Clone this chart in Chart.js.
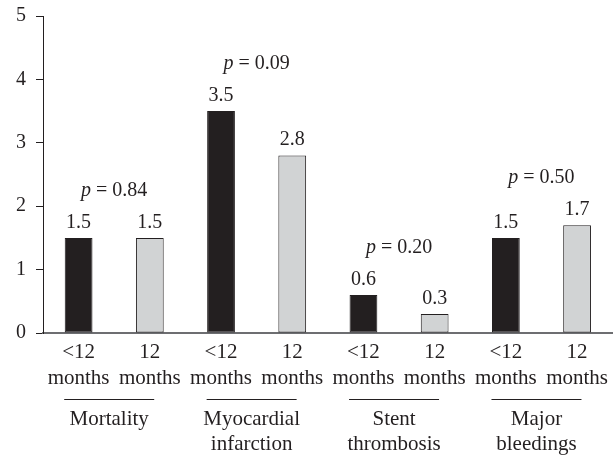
<!DOCTYPE html>
<html>
<head>
<meta charset="utf-8">
<script src="https://cdn.jsdelivr.net/npm/chart.js@4"></script>
<style>
  html, body { margin: 0; padding: 0; background: #fff; }
  #wrap { width: 614px; height: 455px; position: relative; }
</style>
</head>
<body>
<div id="wrap"><canvas id="chart"></canvas></div>
<script>
// data
const groups = [['Mortality'], ['Myocardial', 'infarction'], ['Stent', 'thrombosis'], ['Major', 'bleedings']];
const periods = [['<12', 'months'], ['12', 'months']];
const under12 = [1.5, 3.5, 0.6, 1.5];
const over12 = [1.5, 2.8, 0.3, 1.7];
const pValues = ['0.84', '0.09', '0.20', '0.50'];
const yTicks = [0, 1, 2, 3, 4, 5];

const ink = '#231f20';
const font = 'Liberation Serif';

// interleave the two periods per group
const labels = [], values = [], colors = [];
groups.forEach((g, i) => {
    labels.push(periods[0]); values.push(under12[i]); colors.push(ink);
    labels.push(periods[1]); values.push(over12[i]); colors.push('#d1d3d4');
});

// value labels, p values, group names under the axis
const annotate = {
    id: 'annotate',
    afterDraw(chart) {
        const c = chart.ctx, x = chart.scales.x, y = chart.scales.y;
        c.save();
        c.fillStyle = ink;
        c.textAlign = 'center';
        c.textBaseline = 'alphabetic';
        c.font = `20px "${font}"`;
        values.forEach((v, i) => {
            c.fillText(v.toFixed(1), x.getPixelForValue(i), y.getPixelForValue(v) - 10);
        });
        groups.forEach((g, i) => {
            const mid = (x.getPixelForValue(2 * i) + x.getPixelForValue(2 * i + 1)) / 2;
            // p value, italic p
            const top = y.getPixelForValue(Math.max(under12[i], over12[i])) - 42;
            c.font = `italic 20px "${font}"`;
            const wp = c.measureText('p').width;
            c.font = `20px "${font}"`;
            const rest = ' = ' + pValues[i];
            const wr = c.measureText(rest).width;
            const x0 = mid - (wp + wr) / 2;
            c.textAlign = 'left';
            c.font = `italic 20px "${font}"`;
            c.fillText('p', x0, top);
            c.font = `20px "${font}"`;
            c.fillText(rest, x0 + wp, top);
            c.textAlign = 'center';
            // group caption
            const gx = mid - 5;
            c.strokeStyle = ink;
            c.lineWidth = 1;
            c.beginPath();
            c.moveTo(gx - 45, 399.5);
            c.lineTo(gx + 45, 399.5);
            c.stroke();
            c.font = `21px "${font}"`;
            g.forEach((line, k) => c.fillText(line, gx, 424.5 + k * 25));
        });
        c.restore();
    }
};

const ctx = document.getElementById('chart').getContext('2d');
const chart = new Chart(ctx, {
    type: 'bar',
    data: {
        labels: labels,
        datasets: [{
            data: values,
            backgroundColor: colors,
            borderColor: ink,
            borderWidth: 1,
            borderSkipped: false,
            barPercentage: 0.39,
            categoryPercentage: 1
        }]
    },
    options: {
        responsive: true,
        maintainAspectRatio: false,
        animation: false,
        layout: { padding: { top: 16, left: 0, right: 0, bottom: 0 } },
        plugins: {
            legend: { display: false },
            tooltip: { enabled: false }
        },
        scales: {
            x: {
                offset: true,
                grid: { display: false, drawTicks: false },
                border: { display: true, color: '#6d6e71', width: 2 },
                ticks: {
                    color: ink,
                    font: { family: font, size: 21, lineHeight: 1.25 },
                    padding: 6,
                    autoSkip: false,
                    maxRotation: 0,
                    minRotation: 0
                },
                afterFit(axis) { axis.height = 122; }
            },
            y: {
                min: 0,
                max: 5,
                afterBuildTicks(axis) { axis.ticks = yTicks.map(v => ({ value: v })); },
                grid: { drawOnChartArea: false, drawTicks: true, tickLength: 7, color: ink },
                border: { display: true, color: ink, width: 1 },
                ticks: {
                    color: ink,
                    font: { family: font, size: 20 },
                    padding: 10
                },
                afterFit(axis) {
                    axis.width = 43;
                    axis.paddingTop = 0;
                    axis.paddingBottom = 0;
                }
            }
        }
    },
    plugins: [annotate]
});
</script>
</body>
</html>
